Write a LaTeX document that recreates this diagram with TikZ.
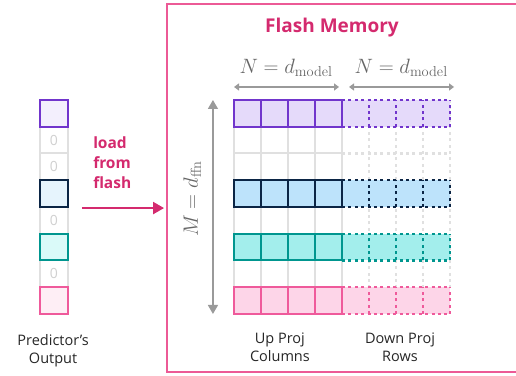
\documentclass[tikz,border=0pt]{standalone}
\usepackage[no-math]{fontspec}
\setmainfont{Open Sans}
\usepackage{amsmath}
\usetikzlibrary{positioning}
\usetikzlibrary{calc,arrows.meta}

\definecolor{flashpink}{HTML}{EC5A96}
\definecolor{loadpink}{HTML}{D42A6E}
\definecolor{purpleline}{HTML}{7135CC}
\definecolor{purplefill}{HTML}{E5DAFA}
\definecolor{purplelight}{HTML}{F3EFFD}
\definecolor{navyline}{HTML}{0B2545}
\definecolor{navyfill}{HTML}{BDE3FB}
\definecolor{navylight}{HTML}{E6F4FD}
\definecolor{tealline}{HTML}{00968F}
\definecolor{tealfill}{HTML}{A3EEEC}
\definecolor{teallight}{HTML}{DAFAF9}
\definecolor{pinkline}{HTML}{EF5A9B}
\definecolor{pinkfill}{HTML}{FDD5E8}
\definecolor{pinklight}{HTML}{FEEEF5}
\definecolor{gridgrey}{HTML}{E0E0E0}
\definecolor{zerogrey}{HTML}{D0D0D0}
\definecolor{arrowgrey}{HTML}{9A9A9A}
\definecolor{mathgrey}{HTML}{666666}

\begin{document}
\begin{tikzpicture}[x=27pt,y=26.75pt,
		solidrow/.style={line width=2pt,line cap=rect,step={(1,1)}},
		dashrow/.style={line width=2.4pt,dash pattern=on 3pt off 3.4pt,step={(1,1)}},
		greygrid/.style={gridgrey,line width=2pt,step={(1,1)}},
		predcell/.style={draw=gridgrey,line width=2pt,fill=white,minimum width=28pt,minimum height=26.75pt,inner sep=0pt,outer sep=0pt,text=zerogrey,font=\fontsize{14}{14}\selectfont},
		dimarrow/.style={arrowgrey,line width=1.4pt,{Triangle[length=5pt,width=7pt]}-{Triangle[length=5pt,width=7pt]}},
		mathlabel/.style={text=mathgrey,font=\fontsize{20}{22}\selectfont},
		caption/.style={align=center,font=\fontsize{14.5}{18.5}\selectfont,text=black!85}]
		\clip (-8.667,3.738) rectangle (10.444,-10.318);
		
		\coordinate(frametop) at (-2.48,3.57);
		\coordinate(loadstart) at (-5.63,-4.04);
		\coordinate(upleft) at (0,0.486);
		\coordinate(upright) at (3.89,0.486);
		\coordinate(downleft) at (4.26,0.486);
		\coordinate(downright) at (8.15,0.486);
		\coordinate(mtop) at (-0.78,0);
		\coordinate(mbottom) at (-0.78,-8);
		
		% Flash memory frame
		\node[draw=flashpink,line width=2pt,minimum width=370pt,minimum height=368pt,anchor=north west,inner sep=0pt,outer sep=0pt] (flash) at (frametop) {};
		\node[text=loadpink,font=\fontsize{19}{20}\selectfont\bfseries] (title) at (3.63,2.72) {Flash Memory};
		
		% Draw predictor output column
		\node[predcell] (p1) at (-6.667,-1.5) {0};
		\node[predcell] (p2) at (-6.667,-2.5) {0};
		\node[predcell] (p4) at (-6.667,-4.5) {0};
		\node[predcell] (p6) at (-6.667,-6.5) {0};
		\node[predcell,draw=purpleline,fill=purplelight] (p0) at (-6.667,-0.5) {};
		\node[predcell,draw=navyline,fill=navylight] (p3) at (-6.667,-3.5) {};
		\node[predcell,draw=tealline,fill=teallight] (p5) at (-6.667,-5.5) {};
		\node[predcell,draw=pinkline,fill=pinklight] (p7) at (-6.667,-7.5) {};
		\node[caption] (predlabel) at (-6.70,-9.38) {Predictor's\\Output};
		
		\node[text=loadpink,align=left,anchor=west,inner sep=0pt,font=\fontsize{15.5}{20}\selectfont\bfseries] (loadlabel) at (-5.22,-2.355) {load\\from\\flash};
		\draw[loadpink,line width=2.2pt,-{Triangle[length=11pt,width=12pt]},shorten >=3pt] (loadstart) -- (flash.west |- loadstart);
		
		% Draw grey weight grid
		\draw[greygrid,line cap=rect] (0,0) grid (4,-8);
		\draw[greygrid,line width=2.4pt,dash pattern=on 3pt off 3.4pt] (4,0) grid (8,-8);
		
		% Draw loaded rows
		\fill[purplefill] (0,0) rectangle (8,-1);
		\draw[purpleline,dashrow] (4,0) grid (8,-1);
		\draw[purpleline,solidrow] (0,0) grid (4,-1);
		
		\fill[navyfill] (0,-3) rectangle (8,-4);
		\draw[navyline,dashrow] (4,-3) grid (8,-4);
		\draw[navyline,solidrow] (0,-3) grid (4,-4);
		
		\fill[tealfill] (0,-5) rectangle (8,-6);
		\draw[tealline,dashrow] (4,-5) grid (8,-6);
		\draw[tealline,solidrow] (0,-5) grid (4,-6);
		
		\fill[pinkfill] (0,-7) rectangle (8,-8);
		\draw[pinkline,dashrow] (4,-7) grid (8,-8);
		\draw[pinkline,solidrow] (0,-7) grid (4,-8);
		
		% Dimensions
		\draw[dimarrow] (upleft) -- (upright);
		\draw[dimarrow] (downleft) -- (downright);
		\draw[arrowgrey,line width=1.4pt,{Triangle[length=9pt,width=10pt]}-{Triangle[length=9pt,width=10pt]}] (mtop) -- (mbottom);
		\node[mathlabel] (upwidth) at (1.93,1.2) {$N = d_{\mathrm{model}}$};
		\node[mathlabel] (downwidth) at (6.19,1.2) {$N = d_{\mathrm{model}}$};
		\node[mathlabel,rotate=90] (height) at (-1.55,-3.70) {$M = d_{\mathrm{ffn}}$};
		
		\node[caption] (uplabel) at (1.7,-9.25) {Up Proj\\Columns};
		\node[caption] (downlabel) at (6.15,-9.25) {Down Proj\\Rows};
	\end{tikzpicture}
\end{document}
